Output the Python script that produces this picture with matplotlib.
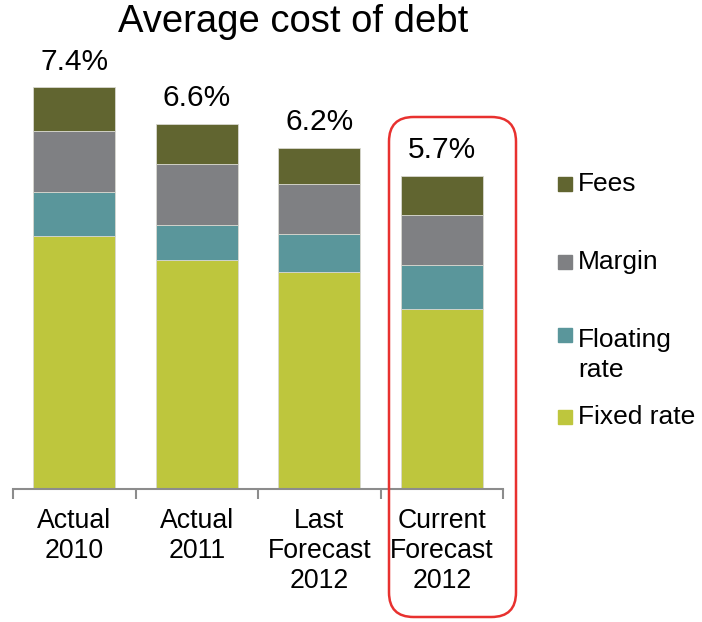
import matplotlib
matplotlib.use("Agg")
import matplotlib.pyplot as plt
from matplotlib.patches import FancyBboxPatch, Rectangle

plt.rcParams['font.family'] = ['Liberation Sans', 'DejaVu Sans']

categories = ["Actual\n2010", "Actual\n2011", "Last\nForecast\n2012", "Current\nForecast\n2012"]
series_names = ["Fixed rate", "Floating rate", "Margin", "Fees"]
fixed_rate = [4.66, 4.22, 3.99, 3.31]
floating_rate = [0.81, 0.65, 0.71, 0.82]
margin = [1.13, 1.11, 0.92, 0.91]
fees = [0.80, 0.75, 0.66, 0.73]
total_labels = ["7.4%", "6.6%", "6.2%", "5.7%"]

colors = ["#bec63d", "#5a969b", "#7f8083", "#616530"]

W, H = 702, 622
fig = plt.figure(figsize=(W / 100, H / 100), dpi=100)
ax_left, ax_right = 13, 503
ax_bottom, ax_top = 488.5, 55
ax = fig.add_axes([ax_left / W, 1 - ax_bottom / H, (ax_right - ax_left) / W, (ax_bottom - ax_top) / H])

x = list(range(len(categories)))
series = [fixed_rate, floating_rate, margin, fees]
bottoms = [0.0] * len(categories)
for vals, col in zip(series, colors):
    ax.bar(x, vals, width=0.667, bottom=bottoms, color=col, edgecolor="#d8d8d0", linewidth=0.6)
    bottoms = [b + v for b, v in zip(bottoms, vals)]

for xi, top, lab in zip(x, bottoms, total_labels):
    ax.annotate(lab, (xi, top), xytext=(0, 18.5), textcoords="offset points",
                ha="center", va="center", fontsize=21.5)

ax.set_xlim(-0.5, len(categories) - 0.5)
ax.set_ylim(0, (ax_bottom - ax_top) / 54.2)
for s in ["top", "right", "left"]:
    ax.spines[s].set_visible(False)
ax.spines["bottom"].set_color("#8c8c8c")
ax.spines["bottom"].set_linewidth(1.5)
ax.set_yticks([])
ax.set_xticks([i - 0.5 for i in range(len(categories) + 1)])
ax.set_xticklabels([])
ax.set_xticks(x, minor=True)
ax.set_xticklabels(categories, minor=True, fontsize=19.2, linespacing=1.2, va="top")
ax.tick_params(axis="x", which="major", length=7, width=1.5, color="#8c8c8c", direction="out")
ax.tick_params(axis="x", which="minor", length=0, pad=14)

fig.text(293 / W, 1 - 22 / H, "Average cost of debt", ha="center", va="center", fontsize=27.5)

# legend (top to bottom)
legend_labels = ["Fees", "Margin", "Floating\nrate", "Fixed rate"]
legend_colors = [colors[3], colors[2], colors[1], colors[0]]
square_y = [184, 262, 335, 417]
text_y = [184, 262, 340, 417]
for lab, sy, ty, col in zip(legend_labels, square_y, text_y, legend_colors):
    fig.patches.append(Rectangle((558 / W, 1 - (sy + 7) / H), 14 / W, 14 / H,
                                 transform=fig.transFigure, color=col, figure=fig))
    first, *rest = lab.split("\n")
    fig.text(578 / W, 1 - ty / H, first, ha="left", va="center", fontsize=19)
    for k, extra in enumerate(rest, start=1):
        fig.text(578 / W, 1 - (ty + 30 * k) / H, extra, ha="left", va="center", fontsize=19)

# red highlight box
box = FancyBboxPatch((389 / W, 1 - 617 / H), (516 - 389) / W, (617 - 117) / H,
                     boxstyle="round,pad=0,rounding_size=0.035",
                     transform=fig.transFigure, fill=False, edgecolor="#e8312f",
                     linewidth=1.8, figure=fig, mutation_aspect=W / H)
fig.patches.append(box)

fig.savefig("out.png", dpi=100)
